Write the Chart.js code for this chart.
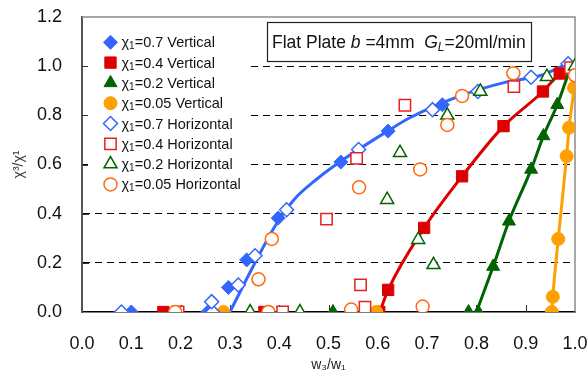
<!DOCTYPE html>
<html>
<head>
<meta charset="utf-8">
<script src="https://cdn.jsdelivr.net/npm/chart.js@4.4.1/dist/chart.umd.min.js"></script>
<style>
  html, body { margin: 0; padding: 0; background: #fff; }
</style>
</head>
<body>
<canvas id="chart" width="588" height="376"></canvas>
<script>
// x ticks / y ticks
var xTicks = [0, 0.1, 0.2, 0.3, 0.4, 0.5, 0.6, 0.7, 0.8, 0.9, 1.0];
var yTicks = [0, 0.2, 0.4, 0.6, 0.8, 1.0, 1.2];

// vertical (filled markers)
var v07X = [0.10, 0.255, 0.297, 0.334, 0.398, 0.525, 0.621, 0.731];
var v07Y = [0, 0, 0.10, 0.212, 0.382, 0.61, 0.736, 0.843];
var v04X = [0.165, 0.37, 0.603, 0.621, 0.694, 0.771, 0.855, 0.935, 0.969];
var v04Y = [0, 0, 0, 0.09, 0.342, 0.552, 0.756, 0.897, 0.97];
var v02X = [0.266, 0.509, 0.784, 0.804, 0.834, 0.866, 0.911, 0.936, 0.964];
var v02Y = [0, 0, 0, 0, 0.185, 0.369, 0.58, 0.716, 0.843];
var v005X = [0.287, 0.597, 0.953, 0.955, 0.966, 0.983, 0.988, 0.998];
var v005Y = [0, 0, 0, 0.062, 0.297, 0.634, 0.75, 0.912];

// horizontal (hollow markers)
var h07X = [0.08, 0.265, 0.263, 0.317, 0.351, 0.415, 0.561, 0.711, 0.803, 0.911, 0.986];
var h07Y = [0, 0, 0.042, 0.11, 0.229, 0.416, 0.661, 0.823, 0.897, 0.955, 1.01];
var h04X = [0.195, 0.407, 0.574, 0.565, 0.496, 0.557, 0.655, 0.876, 0.991];
var h04Y = [0, 0, 0.02, 0.11, 0.378, 0.625, 0.841, 0.917, 0.994];
var h02X = [0.341, 0.442, 0.682, 0.713, 0.619, 0.645, 0.741, 0.808, 0.943, 1.0];
var h02Y = [0, 0, 0.294, 0.192, 0.457, 0.648, 0.80, 0.897, 0.957, 1.0];
var h005X = [0.189, 0.378, 0.546, 0.691, 0.358, 0.385, 0.562, 0.686, 0.741, 0.771, 0.875, 1.0];
var h005Y = [0, 0, 0.01, 0.022, 0.133, 0.297, 0.507, 0.58, 0.761, 0.879, 0.971, 0.963];

// trend curves
var fit07X = [0.30, 0.347, 0.391, 0.43, 0.476, 0.53, 0.62, 0.665, 0.767, 0.86, 0.93, 0.985];
var fit07Y = [0, 0.185, 0.348, 0.457, 0.54, 0.62, 0.736, 0.79, 0.879, 0.935, 0.962, 1.01];
var fit04X = [0.604, 0.621, 0.694, 0.771, 0.855, 0.935, 0.969, 0.985];
var fit04Y = [0, 0.09, 0.342, 0.552, 0.756, 0.897, 0.97, 0.99];
var fit02X = [0.80, 0.834, 0.866, 0.911, 0.936, 0.964, 0.99];
var fit02Y = [0, 0.185, 0.369, 0.58, 0.716, 0.843, 0.99];
var fit005X = [0.953, 0.955, 0.966, 0.983, 0.988, 0.998, 1.0];
var fit005Y = [0, 0.062, 0.297, 0.634, 0.75, 0.912, 0.96];

var labels = ['χ₁=0.7 Vertical', 'χ₁=0.4 Vertical', 'χ₁=0.2 Vertical', 'χ₁=0.05 Vertical',
  'χ₁=0.7 Horizontal', 'χ₁=0.4 Horizontal', 'χ₁=0.2 Horizontal', 'χ₁=0.05 Horizontal'];

var BLUE = '#3366ff', RED = '#dd0000', GREEN = '#006400', ORANGE = '#ffa000', ORANGE_H = '#ff6a10';

function pts(xs, ys) {
  return xs.map(function (x, i) { return { x: x, y: ys[i] }; });
}

function markers(label, xs, ys, style, r, color, hollow) {
  return {
    label: label,
    data: pts(xs, ys),
    pointStyle: style,
    pointRadius: r,
    pointBorderWidth: hollow ? 1.5 : 1,
    borderColor: color,
    backgroundColor: hollow ? '#fff' : color,
    showLine: false
  };
}

function curve(xs, ys, color) {
  return {
    label: '',
    data: pts(xs, ys),
    showLine: true,
    pointRadius: 0,
    borderColor: color,
    borderWidth: 3,
    cubicInterpolationMode: 'monotone'
  };
}

// first in the list is drawn on top
var datasets = [
  markers(labels[7], h005X, h005Y, 'circle', 6.5, ORANGE_H, true),
  markers(labels[6], h02X, h02Y, 'triangle', 7.5, GREEN, true),
  markers(labels[5], h04X, h04Y, 'rect', 8, '#e82020', true),
  markers(labels[4], h07X, h07Y, 'rectRot', 7, BLUE, true),
  markers(labels[3], v005X, v005Y, 'circle', 6.5, ORANGE, false),
  markers(labels[2], v02X, v02Y, 'triangle', 7.5, GREEN, false),
  markers(labels[1], v04X, v04Y, 'rect', 8, RED, false),
  markers(labels[0], v07X, v07Y, 'rectRot', 7, BLUE, false),
  curve(fit07X, fit07Y, BLUE),
  curve(fit04X, fit04Y, RED),
  curve(fit02X, fit02Y, GREEN),
  curve(fit005X, fit005Y, ORANGE)
];

var FONT = '"Liberation Sans", Arial, sans-serif';

var frameAndLegend = {
  id: 'frameAndLegend',
  beforeDatasetsDraw: function (chart) {
    var ctx = chart.ctx, a = chart.chartArea;
    ctx.save();
    // top and right frame
    ctx.strokeStyle = '#8a8a8a';
    ctx.lineWidth = 1.5;
    ctx.beginPath();
    ctx.moveTo(a.left, a.top);
    ctx.lineTo(a.right, a.top);
    ctx.lineTo(a.right, a.bottom);
    ctx.stroke();
    // inward ticks
    var xs = chart.scales.x, ys = chart.scales.y;
    ctx.strokeStyle = '#333';
    ctx.lineWidth = 1;
    ctx.beginPath();
    xTicks.slice(1, -1).forEach(function (v) {
      var px = Math.round(xs.getPixelForValue(v)) + 0.5;
      ctx.moveTo(px, a.bottom);
      ctx.lineTo(px, a.bottom - 7);
    });
    yTicks.slice(1, -1).forEach(function (v) {
      var py = Math.round(ys.getPixelForValue(v)) + 0.5;
      ctx.moveTo(a.left, py);
      ctx.lineTo(a.left + 7, py);
    });
    ctx.stroke();

    // legend box
    ctx.fillStyle = '#fff';
    ctx.fillRect(a.left + 6, a.top + 3, 162, 178);
    for (var i = 0; i < labels.length; i++) {
      var ds = chart.data.datasets.find(function (d) { return d.label === labels[i]; });
      var y = 42.3 + i * 20.3;
      ctx.fillStyle = ds.backgroundColor;
      ctx.strokeStyle = ds.borderColor;
      ctx.lineWidth = ds.pointBorderWidth;
      Chart.helpers.drawPoint(ctx, {
        pointStyle: ds.pointStyle, radius: ds.pointRadius, rotation: 0, borderWidth: ds.pointBorderWidth
      }, 110.5, y);
      ctx.fillStyle = '#111';
      ctx.textBaseline = 'alphabetic';
      ctx.font = '14.5px ' + FONT;
      var tx = 121.5, base = y + 5;
      ctx.fillText('χ', tx, base);
      tx += ctx.measureText('χ').width;
      ctx.font = '10px ' + FONT;
      ctx.fillText('1', tx, base + 2);
      tx += ctx.measureText('1').width;
      ctx.font = '14.5px ' + FONT;
      ctx.fillText(labels[i].slice(2), tx, base);
    }
    ctx.restore();
  },
  afterDraw: function (chart) {
    var ctx = chart.ctx;
    ctx.save();
    ctx.strokeStyle = '#222';
    ctx.lineWidth = 1.2;
    ctx.strokeRect(267.5, 22.5, 264, 39);
    ctx.fillStyle = '#111';
    ctx.textBaseline = 'alphabetic';
    var parts = [
      ['Flat Plate ', ''], ['b', 'italic '], [' =4mm  ', ''], ['G', 'italic '], ['L', 'sub'], ['=20ml/min', '']
    ];
    var x = 272, base = 48;
    parts.forEach(function (p) {
      if (p[1] === 'sub') {
        ctx.font = 'italic 12px ' + FONT;
        ctx.fillText(p[0], x, base + 3);
      } else {
        ctx.font = p[1] + '17.5px ' + FONT;
        ctx.fillText(p[0], x, base);
      }
      x += ctx.measureText(p[0]).width;
    });
    ctx.restore();
  }
};

new Chart(document.getElementById('chart'), {
  type: 'scatter',
  data: { datasets: datasets },
  options: {
    responsive: false,
    animation: false,
    layout: { padding: { top: 17, right: 13, left: 0, bottom: 0 } },
    plugins: { legend: { display: false }, tooltip: { enabled: false } },
    scales: {
      x: {
        type: 'linear',
        min: 0, max: 1,
        afterBuildTicks: function (s) { s.ticks = xTicks.map(function (v) { return { value: v }; }); },
        afterFit: function (s) { s.height = 64; s.paddingLeft = 0; s.paddingRight = 0; },
        grid: { display: false, drawTicks: false },
        border: { display: true, color: '#000', width: 1.5 },
        ticks: {
          padding: 21,
          color: '#111',
          font: { family: FONT, size: 18 },
          callback: function (v) { return v.toFixed(1); }
        },
        title: {
          display: true, text: 'w₃/w₁', color: '#222',
          font: { family: FONT, size: 14 },
          padding: { top: 0, bottom: 2 }
        }
      },
      y: {
        type: 'linear',
        min: 0, max: 1.2,
        afterBuildTicks: function (s) { s.ticks = yTicks.map(function (v) { return { value: v }; }); },
        afterFit: function (s) { s.width = 82; s.paddingTop = 0; s.paddingBottom = 0; },
        grid: {
          drawTicks: false,
          lineWidth: 1,
          color: function (c) {
            var v = c.tick ? c.tick.value : 0;
            return (v > 0.01 && v < 1.19) ? '#000' : 'rgba(0,0,0,0)';
          }
        },
        border: { display: true, color: '#555', width: 2, dash: [7, 5] },
        ticks: {
          padding: 20,
          color: '#111',
          font: { family: FONT, size: 18 },
          callback: function (v) { return v.toFixed(1); }
        },
        title: {
          display: true, text: 'χ³/χ¹', color: '#333',
          font: { family: FONT, size: 14 },
          padding: { top: 11, bottom: 0 }
        }
      }
    }
  },
  plugins: [frameAndLegend]
});
</script>
</body>
</html>
